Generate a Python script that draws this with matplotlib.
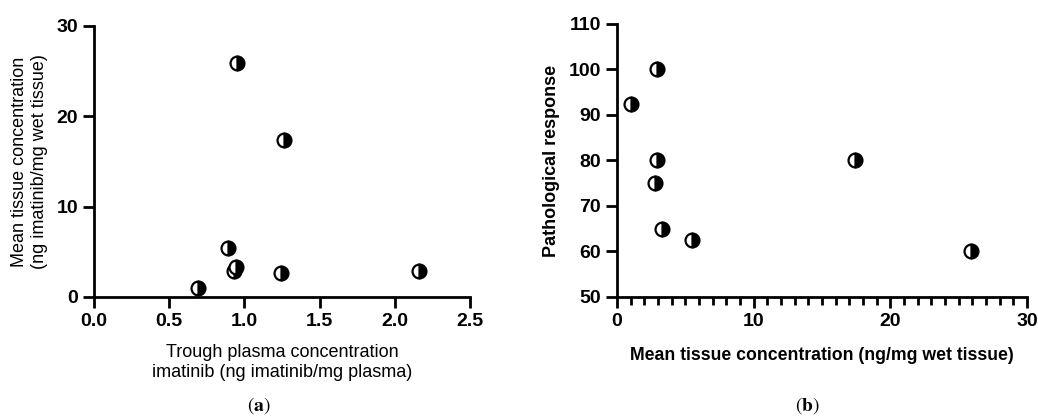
import numpy as np
import matplotlib
matplotlib.use("Agg")
import matplotlib.pyplot as plt
from matplotlib.ticker import MultipleLocator

# ---------------- data ----------------
# (a) trough plasma vs. mean tissue concentration
plasma_conc = [0.69, 0.89, 0.93, 0.945, 0.95, 1.24, 1.26, 2.16]
tissue_conc_a = [1.0, 5.4, 2.9, 3.3, 25.9, 2.7, 17.4, 2.9]

# (b) mean tissue concentration vs. pathological response
tissue_conc_b = [1.0, 2.9, 2.9, 2.75, 3.3, 5.5, 17.4, 25.9]
path_response = [92.5, 100, 80, 75, 65, 62.5, 80, 60]

plt.rcParams["font.family"] = ["Liberation Sans", "DejaVu Sans"]
plt.rcParams["mathtext.fontset"] = "stix"

fig = plt.figure(figsize=(10.38, 4.18), dpi=100)
ax1 = fig.add_axes([0.0906, 0.2895, 0.4528 - 0.0906, 0.9378 - 0.2895])
ax2 = fig.add_axes([0.5944, 0.2895, 0.9894 - 0.5944, 0.9426 - 0.2895])

marker_kw = dict(linestyle="none", marker="o", markersize=10,
                 fillstyle="right", markerfacecolor="black",
                 markerfacecoloralt="white", markeredgecolor="black",
                 markeredgewidth=1.6, clip_on=False, zorder=3)

def style_axes(ax):
    for s in ["top", "right"]:
        ax.spines[s].set_visible(False)
    for s in ["left", "bottom"]:
        ax.spines[s].set_linewidth(2)
    ax.tick_params(which="major", length=8, width=2, labelsize=14, pad=3.5)
    ax.tick_params(which="minor", length=6, width=2)
    for lab in ax.get_xticklabels() + ax.get_yticklabels():
        lab.set_fontweight("bold")

# ---- (a) ----
ax1.plot(plasma_conc, tissue_conc_a, **marker_kw)
ax1.set_xlim(0, 2.5)
ax1.set_ylim(0, 30)
ax1.set_xticks(np.arange(0, 2.51, 0.5))
ax1.set_yticks([0, 10, 20, 30])
ax1.xaxis.set_major_formatter(matplotlib.ticker.FormatStrFormatter("%.1f"))
style_axes(ax1)
ax1.set_xlabel("Trough plasma concentration\nimatinib (ng imatinib/mg plasma)",
               fontsize=13, labelpad=10, linespacing=1.25)
ax1.set_ylabel("Mean tissue concentration\n(ng imatinib/mg wet tissue)",
               fontsize=13, labelpad=6, linespacing=1.25)

# ---- (b) ----
ax2.plot(tissue_conc_b, path_response, **marker_kw)
ax2.set_xlim(0, 30)
ax2.set_ylim(50, 110)
ax2.set_xticks([0, 10, 20, 30])
ax2.xaxis.set_minor_locator(MultipleLocator(1))
ax2.set_yticks(np.arange(50, 111, 10))
style_axes(ax2)
ax2.set_xlabel("Mean tissue concentration (ng/mg wet tissue)",
               fontsize=12.7, fontweight="bold", labelpad=12)
ax2.set_ylabel("Pathological response", fontsize=13, fontweight="bold",
               labelpad=6)

# captions
fig.text(0.249, 0.031, r"($\mathbf{a}$)", ha="center", va="center", fontsize=14,
         family="STIXGeneral")
fig.text(0.778, 0.031, r"($\mathbf{b}$)", ha="center", va="center", fontsize=14,
         family="STIXGeneral")

fig.savefig("out.png", dpi=100)
